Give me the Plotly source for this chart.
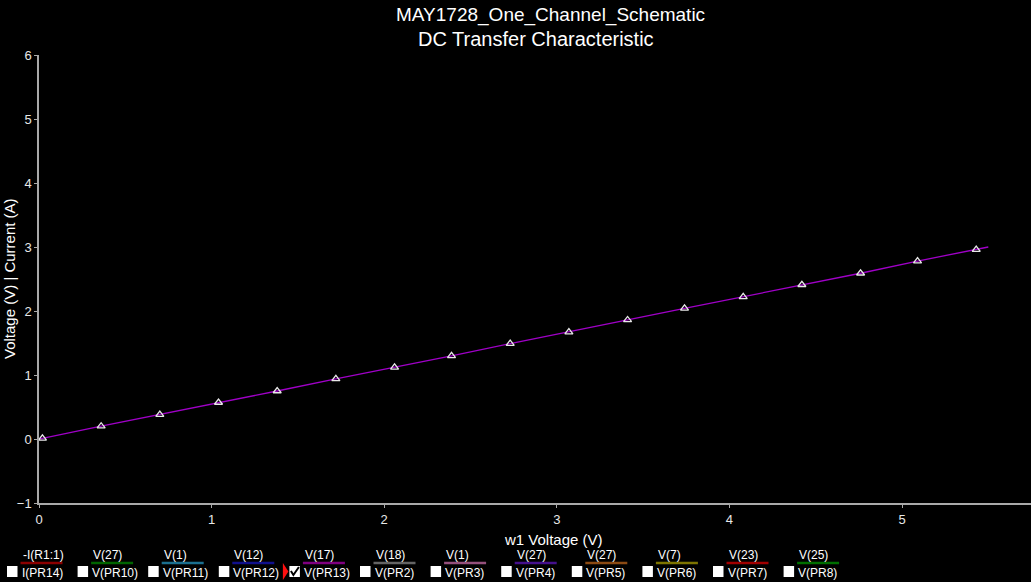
import plotly.graph_objects as go

# DC sweep of w1 and the probed output voltage
sweep_v = [0.00, 0.02, 0.36, 0.70, 1.04, 1.38, 1.72, 2.06, 2.39, 2.73, 3.07,
           3.41, 3.74, 4.08, 4.42, 4.76, 5.09, 5.43, 5.50]
out_v = [0.00, 0.01, 0.20, 0.38, 0.57, 0.75, 0.94, 1.12, 1.30, 1.49, 1.67,
         1.86, 2.04, 2.22, 2.41, 2.59, 2.78, 2.96, 3.00]

x_ticks = [0, 1, 2, 3, 4, 5]
y_ticks = [-1, 0, 1, 2, 3, 4, 5, 6]

# probe legend entries
probe_names = ["-I(R1:1)", "V(27)", "V(1)", "V(12)", "V(17)", "V(18)",
               "V(1)", "V(27)", "V(27)", "V(7)", "V(23)", "V(25)"]
probe_ids = ["I(PR14)", "V(PR10)", "V(PR11)", "V(PR12)", "V(PR13)", "V(PR2)",
             "V(PR3)", "V(PR4)", "V(PR5)", "V(PR6)", "V(PR7)", "V(PR8)"]
probe_colors = ["#8b0000", "#006400", "#1b6f8f", "#10108c", "#800080", "#646464",
                "#95507c", "#45108c", "#8b4a13", "#7d7400", "#a00000", "#006e00"]
probe_checked = [False, False, False, False, True, False,
                 False, False, False, False, False, False]

W, H = 1031, 582
L, R, T, B = 39, 0, 55, 79
PW, PH = W - L - R, H - T - B

def px(x):
    return (x - L) / PW

def py(y):
    return (H - B - y) / PH

TRACE = "#a000c8"
FONT = "Liberation Sans, Arial, sans-serif"
AXIS = "#a9a9a9"

fig = go.Figure()
fig.add_trace(go.Scatter(
    x=sweep_v, y=out_v, mode="lines",
    line=dict(color=TRACE, width=1.3), hoverinfo="skip", showlegend=False))
fig.add_trace(go.Scatter(
    x=sweep_v[1:-1], y=out_v[1:-1], mode="markers",
    marker=dict(symbol="triangle-up-open", size=7, color="#e8e8e8",
                line=dict(width=1.3, color="#e8e8e8")),
    showlegend=False))

annotations = [
    dict(text="MAY1728_One_Channel_Schematic", x=px(550), y=py(15),
         xref="paper", yref="paper", showarrow=False, yanchor="middle",
         font=dict(size=19, color="white", family=FONT)),
    dict(text="DC Transfer Characteristic", x=px(536), y=py(39),
         xref="paper", yref="paper", showarrow=False, yanchor="middle",
         font=dict(size=20, color="white", family=FONT)),
    dict(text="w1 Voltage (V)", x=px(553), y=py(539),
         xref="paper", yref="paper", showarrow=False, yanchor="middle",
         font=dict(size=15, color="white", family=FONT)),
    dict(text="Voltage (V) | Current (A)", x=px(9), y=py(279), textangle=-90,
         xref="paper", yref="paper", showarrow=False, yanchor="middle",
         xanchor="center", font=dict(size=15, color="white", family=FONT)),
]
shapes = []

for i, (name, pid, col, chk) in enumerate(zip(probe_names, probe_ids,
                                              probe_colors, probe_checked)):
    x0 = 7 + 70.6 * i
    lx = x0 + 13.5
    shapes.append(dict(type="rect", xref="paper", yref="paper",
                       x0=px(x0), x1=px(x0 + 10.5), y0=py(577), y1=py(566),
                       fillcolor="white", line=dict(width=0)))
    shapes.append(dict(type="line", xref="paper", yref="paper",
                       x0=px(lx), x1=px(lx + 42), y0=py(563), y1=py(563),
                       line=dict(color=col, width=2.5)))
    annotations.append(dict(text=name, x=px(lx), y=py(555), xref="paper",
                            yref="paper", showarrow=False, xanchor="left",
                            yanchor="middle",
                            font=dict(size=12, color="white", family=FONT)))
    annotations.append(dict(text=pid, x=px(lx - 1), y=py(573), xref="paper",
                            yref="paper", showarrow=False, xanchor="left",
                            yanchor="middle",
                            font=dict(size=12, color="white", family=FONT)))
    if chk:
        # check mark inside the box and the red selection pointer
        path = "M {a},{b} L {c},{d} L {e},{f}".format(
            a=px(x0 + 1.5), b=py(571), c=px(x0 + 4), d=py(575),
            e=px(x0 + 9.5), f=py(567))
        shapes.append(dict(type="path", xref="paper", yref="paper", path=path,
                           line=dict(color="black", width=2)))
        tri = "M {a},{b} L {c},{d} L {a},{e} Z".format(
            a=px(x0 - 6.5), b=py(563), c=px(x0 - 1), d=py(571.5), e=py(580))
        shapes.append(dict(type="path", xref="paper", yref="paper", path=tri,
                           fillcolor="#ff1010", line=dict(width=0)))

fig.update_layout(
    width=W, height=H,
    margin=dict(l=L, r=R, t=T, b=B),
    paper_bgcolor="black", plot_bgcolor="black",
    showlegend=False,
    font=dict(family=FONT, color="white", size=12),
    xaxis=dict(range=[0, PW / 172.6], tickvals=x_ticks, showgrid=False,
               zeroline=False, showline=True, linecolor=AXIS, linewidth=2,
               ticks="outside", ticklen=3, tickcolor=AXIS,
               tickfont=dict(size=13, color="#e8e8e8", family=FONT)),
    yaxis=dict(range=[-1, 6], tickvals=y_ticks, showgrid=False,
               zeroline=False, showline=True, linecolor=AXIS, linewidth=1.5,
               ticks="outside", ticklen=3, tickcolor=AXIS,
               tickfont=dict(size=13, color="#e8e8e8", family=FONT)),
    annotations=annotations,
    shapes=shapes,
)

fig.write_html("out.html")
